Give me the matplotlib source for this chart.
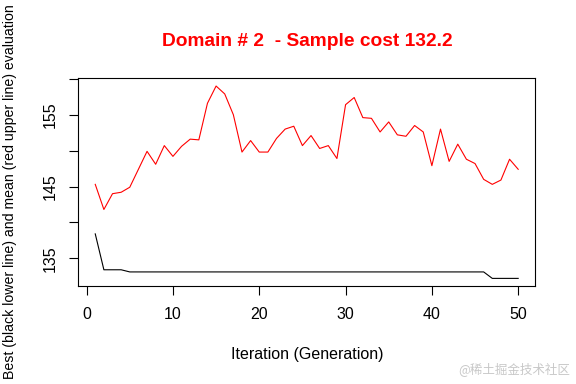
"""
GA run: best and mean evaluation per generation
"""

import matplotlib

matplotlib.use("Agg")
import matplotlib.pyplot as plt

plt.rcParams["font.family"] = ["Liberation Sans", "DejaVu Sans"]

# values
generation = list(range(1, 51))
mean_eval = [
    145.3, 141.8, 144.0, 144.2, 144.9, 147.4, 149.9, 148.1, 150.7, 149.2,
    150.6, 151.6, 151.5, 156.6, 159.0, 157.9, 155.0, 149.8, 151.4, 149.8,
    149.8, 151.7, 153.0, 153.4, 150.7, 152.1, 150.3, 150.7, 148.9, 156.4,
    157.4, 154.6, 154.5, 152.6, 154.0, 152.2, 152.0, 153.5, 152.6, 147.9,
    153.0, 148.5, 150.9, 148.8, 148.2, 146.0, 145.3, 145.9, 148.8, 147.4,
]
best_eval = [138.4, 133.4, 133.4, 133.4] + [133.1] * 42 + [132.2] * 4
y_ticks = [135, 140, 145, 150, 155, 160]
y_labels = ["135", "", "145", "", "155", ""]
x_ticks = [0, 10, 20, 30, 40, 50]

fig = plt.figure(figsize=(5.76, 3.84), dpi=100)
ax = fig.add_axes([0.136, 0.255, 0.793, 0.541])

ax.plot(generation, mean_eval, color="red", linewidth=0.8)
ax.plot(generation, best_eval, color="black", linewidth=0.8)

# R style 4% padding around the data
xr = max(generation) - min(generation)
ax.set_xlim(min(generation) - 0.04 * xr, max(generation) + 0.04 * xr)
lo = min(best_eval + mean_eval)
hi = max(best_eval + mean_eval)
ax.set_ylim(lo - 0.04 * (hi - lo), hi + 0.04 * (hi - lo))

ax.set_xticks(x_ticks)
ax.set_yticks(y_ticks)
ax.set_yticklabels(y_labels, rotation=90, va="center")
ax.tick_params(length=6.8, width=0.8, labelsize=11.5, pad=8)
for s in ax.spines.values():
    s.set_linewidth(0.8)

fig.text(0.533, 1 - 42 / 384, "Domain # 2  - Sample cost 132.2",
         color="red", fontsize=13.8, fontweight="bold", ha="center", va="center")
fig.text(0.533, 1 - 354 / 384, "Iteration (Generation)",
         fontsize=11.5, ha="center", va="center")
# long label, shrunk a bit so it stays inside the figure
fig.text(10 / 576, 0.5,
         "Best (black lower line) and mean (red upper line) evaluation",
         fontsize=10.2, rotation=90, ha="center", va="center")
fig.text(0.99, 0.02, "@稀土掘金技术社区", color="#c8c8c8", fontsize=9,
         ha="right", va="bottom", family=["Noto Sans CJK SC", "DejaVu Sans"])

fig.savefig("out.png", dpi=100)
